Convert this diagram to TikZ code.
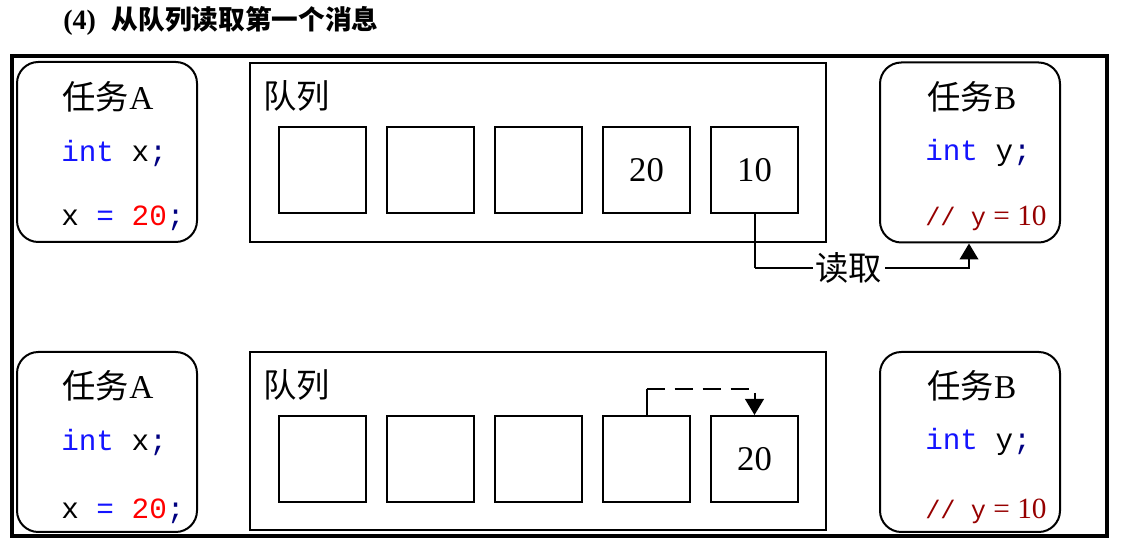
\documentclass[tikz,border=0pt]{standalone}
\usepackage{fontspec}
\setmainfont{Liberation Serif}
\setmonofont{Liberation Mono}
\newfontfamily\cjk{Noto Sans CJK SC}
\usetikzlibrary{arrows.meta}
\definecolor{kwblue}{RGB}{20,20,255}
\definecolor{numred}{RGB}{255,0,0}
\definecolor{semi}{RGB}{0,0,128}
\definecolor{cmt}{RGB}{150,0,0}
\begin{document}
\begin{tikzpicture}[x=0.75pt,y=-0.75pt,
 taskbox/.style={draw,line width=1.5pt,rounded corners=16pt,minimum width=135pt,minimum height=135pt,inner sep=0},
 queuebox/.style={draw,line width=1.5pt,minimum width=432pt,minimum height=134pt,inner sep=0},
 cell/.style={draw,line width=1.5pt,minimum width=65.25pt,minimum height=64.5pt,inner sep=0,font=\fontsize{26}{28}\selectfont},
 head/.style={font=\fontsize{25}{28}\selectfont,inner sep=0},
 code/.style={font=\ttfamily\fontsize{22}{24}\selectfont,anchor=west,inner sep=0},
 cmtcode/.style={font=\ttfamily\fontsize{19}{24}\selectfont,anchor=west,inner sep=0,text=cmt},
 conn/.style={line width=1.5pt,-{Triangle[width=14pt,length=12pt]}},
 dashconn/.style={conn,dash pattern=on 14pt off 7pt},
]
\useasboundingbox (0,0) rectangle (1122,555);
% title
\node[anchor=west,inner sep=0] (title) at (63,21) {\fontsize{21}{24}\selectfont\bfseries (4)\hspace{12pt}{\cjk\fontsize{20}{24}\selectfont 从队列读取第一个消息}};
% frame
\draw[line width=3pt] (12,56) rectangle (1107,536);

% ===== top row =====
\node[taskbox] (ta1) at (107,152) {};
\node[head] (ta1t) at (108,97) {{\cjk 任务}A};
\node[code] (ta1c1) at (61,153) {\textcolor{kwblue}{int} x\textcolor{semi}{;}};
\node[code] (ta1c2) at (61,218) {x \textcolor{kwblue}{=} \textcolor{numred}{20}\textcolor{semi}{;}};

\node[queuebox] (q1) at (538,152.5) {};
\node[head,anchor=west] (q1t) at (263,96) {\cjk 队列};
\node[cell] (c1a) at (322.5,170) {};
\node[cell] (c2a) at (430.5,170) {};
\node[cell] (c3a) at (538.5,170) {};
\node[cell] (c4a) at (646.5,170) {20};
\node[cell] (c5a) at (754.5,170) {10};

\node[taskbox] (tb1) at (970,152.5) {};
\node[head] (tb1t) at (972,97) {{\cjk 任务}B};
\node[code] (tb1c1) at (925,153) {\textcolor{kwblue}{int} y\textcolor{semi}{;}};
\node[cmtcode] (tb1c2) at (925,218) {// y{\rmfamily\fontsize{22}{24}\selectfont\ = 10}};

\coordinate (r1) at (754.5,268);
\coordinate (r2) at (969,268);
\draw[line width=1.5pt] (c5a.south) -- (r1);
\draw[conn] (r1) -- node[pos=0.44,fill=white,inner sep=2pt,font=\cjk\fontsize{25}{28}\selectfont] (readlbl) {读取} (r2) -- (r2 |- tb1.south);

% ===== bottom row =====
\node[taskbox] (ta2) at (107,442) {};
\node[head] (ta2t) at (108,386) {{\cjk 任务}A};
\node[code] (ta2c1) at (61,442) {\textcolor{kwblue}{int} x\textcolor{semi}{;}};
\node[code] (ta2c2) at (61,511) {x \textcolor{kwblue}{=} \textcolor{numred}{20}\textcolor{semi}{;}};

\node[queuebox] (q2) at (538,441) {};
\node[head,anchor=west] (q2t) at (263,385) {\cjk 队列};
\node[cell] (c1b) at (322.5,459) {};
\node[cell] (c2b) at (430.5,459) {};
\node[cell] (c3b) at (538.5,459) {};
\node[cell] (c4b) at (646.5,459) {};
\node[cell] (c5b) at (754.5,459) {20};

\node[taskbox] (tb2) at (970,442) {};
\node[head] (tb2t) at (972,386) {{\cjk 任务}B};
\node[code] (tb2c1) at (925,442) {\textcolor{kwblue}{int} y\textcolor{semi}{;}};
\node[cmtcode] (tb2c2) at (925,511) {// y{\rmfamily\fontsize{22}{24}\selectfont\ = 10}};

\coordinate (d1) at (646.5,389);
\coordinate (d2) at (754.5,389);
\draw[line width=1.5pt] (c4b.north) -- (d1);
\draw[dashconn] (d1) -- (d2) -- (c5b.north);
\end{tikzpicture}
\end{document}
